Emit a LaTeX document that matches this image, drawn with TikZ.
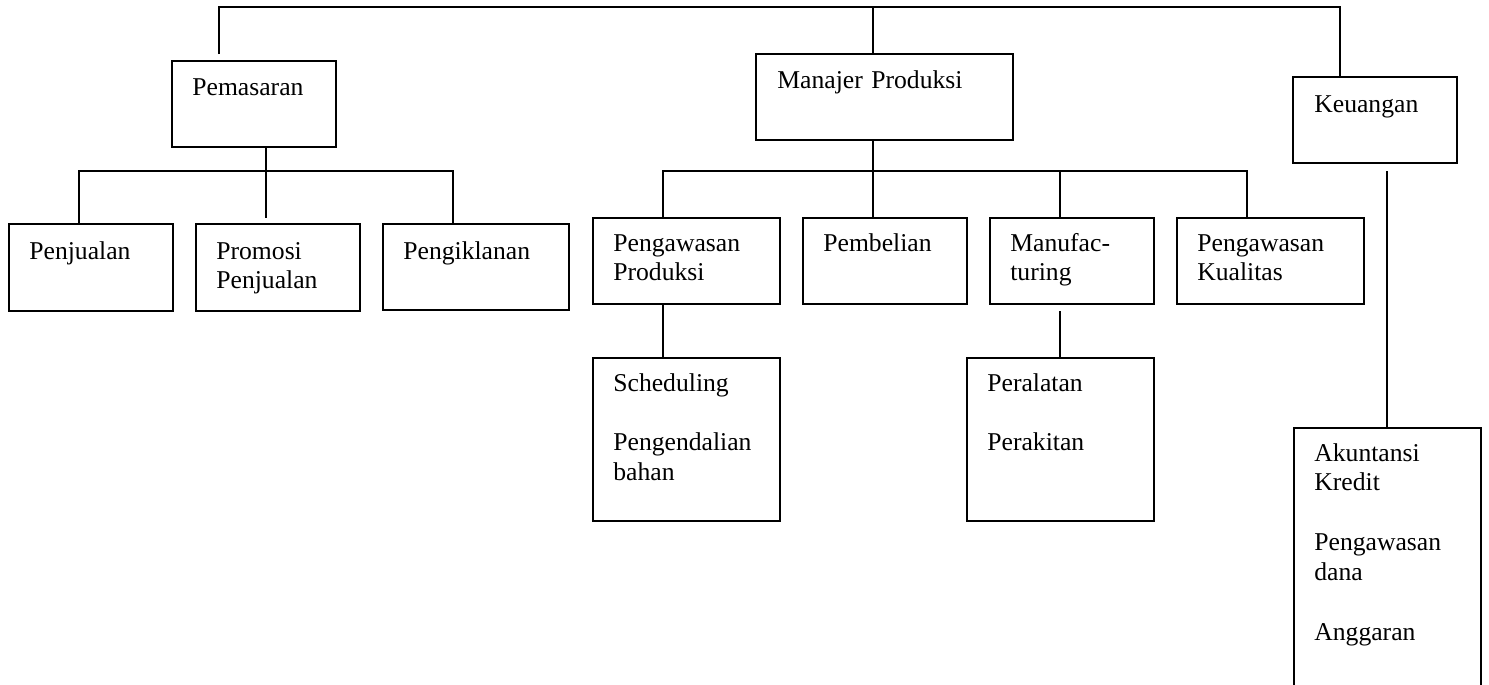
\documentclass[tikz,border=0pt]{standalone}
\usepackage{fontspec}
\setmainfont{Liberation Serif}
\usetikzlibrary{fit, calc}

\begin{document}
\begin{tikzpicture}[
        x=0.02cm, y=-0.02cm,
        unit/.style={draw, line width=1pt, inner sep=0pt, outer sep=0pt},
        isi/.style={anchor=base west, inner sep=0pt, align=left, text width=4cm,
            font=\fontsize{14.6pt}{17.07pt}\selectfont},
        link/.style={line width=1pt}
    ]

    \useasboundingbox (0,0) rectangle (1489,684);

    % --- Level 1 ---
    \node[unit, fit={(172,61) (336,147)}] (pemasaran) {};
    \node[unit, fit={(756,54) (1013,140)}] (manajer) {};
    \node[unit, fit={(1293,77) (1457,163)}] (keuangan) {};

    % --- Level 2: Pemasaran ---
    \node[unit, fit={(9,224) (173,311)}] (penjualan) {};
    \node[unit, fit={(196,224) (360,311)}] (promosi) {};
    \node[unit, fit={(383,224) (569,310)}] (pengiklanan) {};

    % --- Level 2: Produksi ---
    \node[unit, fit={(593,218) (780,304)}] (pengprod) {};
    \node[unit, fit={(803,218) (967,304)}] (pembelian) {};
    \node[unit, fit={(990,218) (1154,304)}] (manufaktur) {};
    \node[unit, fit={(1177,218) (1364,304)}] (kualitas) {};

    % --- Level 3 ---
    \node[unit, fit={(593,358) (780,521)}] (jadwal) {};
    \node[unit, fit={(967,358) (1154,521)}] (peralatan) {};
    \node[unit, fit={(1294,428) (1481,700)}] (akuntansi) {};

    % --- Texts ---
    \node[isi] (pemasaran-t) at ([shift={(20,34)}]pemasaran.north west) {Pemasaran};
    \node[isi] (manajer-t) at ([shift={(21,34)}]manajer.north west) {Manajer Produksi};
    \node[isi] (keuangan-t) at ([shift={(21,35)}]keuangan.north west) {Keuangan};
    \node[isi] (penjualan-t) at ([shift={(20,35)}]penjualan.north west) {Penjualan};
    \node[isi] (promosi-t) at ([shift={(20,35)}]promosi.north west) {Promosi\\Penjualan};
    \node[isi] (pengiklanan-t) at ([shift={(20,35)}]pengiklanan.north west) {Pengiklanan};
    \node[isi] (pengprod-t) at ([shift={(20,33)}]pengprod.north west) {Pengawasan\\Produksi};
    \node[isi] (pembelian-t) at ([shift={(20,33)}]pembelian.north west) {Pembelian};
    \node[isi] (manufaktur-t) at ([shift={(20,33)}]manufaktur.north west) {Manufac-\\turing};
    \node[isi] (kualitas-t) at ([shift={(20,33)}]kualitas.north west) {Pengawasan\\Kualitas};
    \node[isi] (jadwal-t) at ([shift={(20,33)}]jadwal.north west) {Scheduling\\[0.6cm]Pengendalian\\bahan};
    \node[isi] (peralatan-t) at ([shift={(20,33)}]peralatan.north west) {Peralatan\\[0.6cm]Perakitan};
    \node[isi] (akuntansi-t) at ([shift={(20,33)}]akuntansi.north west) {Akuntansi\\Kredit\\[0.6cm]Pengawasan\\dana\\[0.6cm]Anggaran};

    % --- Top bus ---
    \coordinate (bus-l) at (219,7);
    \coordinate (bus-m) at (873,7);
    \coordinate (bus-r) at (1340,7);
    \coordinate (pem-ujung) at (219,54);
    \draw[link] (pem-ujung) -- (bus-l) -- (bus-r) -- (bus-r |- keuangan.north);
    \draw[link] (bus-m) -- (bus-m |- manajer.north);

    % --- Pemasaran bus ---
    \coordinate (pem-bus-l) at (79,171);
    \coordinate (pem-bus-m) at (266,171);
    \coordinate (pem-bus-r) at (453,171);
    \coordinate (promosi-ujung) at (266,218);
    \draw[link] (pem-bus-m |- pemasaran.south) -- (promosi-ujung);
    \draw[link] (pem-bus-l |- penjualan.north) -- (pem-bus-l) -- (pem-bus-r) -- (pem-bus-r |- pengiklanan.north);

    % --- Produksi bus ---
    \coordinate (man-bus-l) at (663,171);
    \coordinate (man-bus-m) at (873,171);
    \coordinate (man-bus-f) at (1060,171);
    \coordinate (man-bus-r) at (1247,171);
    \draw[link] (man-bus-m |- manajer.south) -- (man-bus-m |- pembelian.north);
    \draw[link] (man-bus-l |- pengprod.north) -- (man-bus-l) -- (man-bus-r) -- (man-bus-r |- kualitas.north);
    \draw[link] (man-bus-f) -- (man-bus-f |- manufaktur.north);

    % --- Level 3 links ---
    \coordinate (alat-ujung) at (1060,311);
    \coordinate (keu-ujung) at (1387,171);
    \draw[link] (man-bus-l |- pengprod.south) -- (man-bus-l |- jadwal.north);
    \draw[link] (alat-ujung) -- (alat-ujung |- peralatan.north);
    \draw[link] (keu-ujung) -- (keu-ujung |- akuntansi.north);

\end{tikzpicture}
\end{document}
